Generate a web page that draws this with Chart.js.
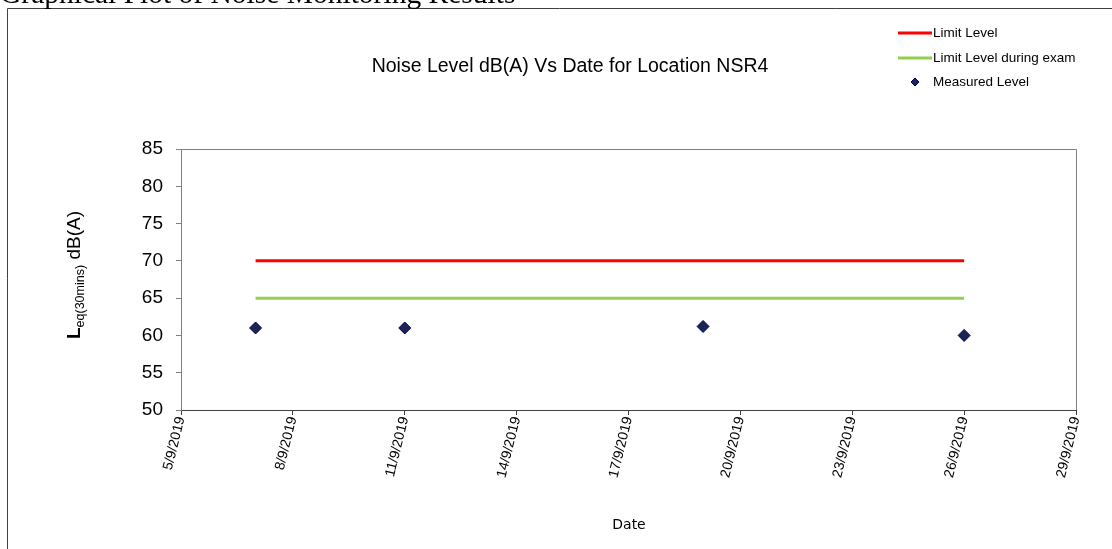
<!DOCTYPE html>
<html>
<head>
<meta charset="utf-8">
<style>
  html, body { margin: 0; padding: 0; background: #fff; }
  #wrap { width: 1112px; height: 549px; position: relative; }
</style>
<script src="https://cdn.jsdelivr.net/npm/chart.js@4/dist/chart.umd.min.js"></script>
</head>
<body>
<div id="wrap"><canvas id="c" width="1112" height="549"></canvas></div>
<script>
const pageTitle = 'Graphical Plot of Noise Monitoring Results';
const chartTitle = 'Noise Level dB(A) Vs Date for Location NSR4';
const xTitle = 'Date';
const dates = ['7/9/2019', '11/9/2019', '19/9/2019', '26/9/2019'];
const measuredLevel = [61.0, 61.0, 61.2, 60.0];
const limitLevel = [70, 70, 70, 70];
const examLimitLevel = [65, 65, 65, 65];
const xTickDays = [5, 8, 11, 14, 17, 20, 23, 26, 29];
const yTicks = [50, 55, 60, 65, 70, 75, 80, 85];
const seriesNames = ['Limit Level', 'Limit Level during exam', 'Measured Level'];

const dayOf = s => parseInt(s.split('/')[0], 10);
const toPts = vals => dates.map((d, i) => ({ x: dayOf(d), y: vals[i] }));

const framePlugin = {
  id: 'frame',
  beforeDraw(chart) {
    const ctx = chart.ctx;
    ctx.save();
    ctx.fillStyle = '#fff';
    ctx.fillRect(0, 0, chart.width, chart.height);
    // outer frame
    ctx.strokeStyle = '#404040';
    ctx.lineWidth = 1;
    ctx.beginPath();
    ctx.moveTo(7.5, chart.height);
    ctx.lineTo(7.5, 8.5);
    ctx.lineTo(chart.width, 8.5);
    ctx.stroke();
    // page title (cut off)
    ctx.fillStyle = '#000';
    ctx.font = '29.5px "Liberation Serif", "Times New Roman", serif';
    ctx.textBaseline = 'alphabetic';
    ctx.textAlign = 'left';
    ctx.fillText(pageTitle, 0, 3);
    // plot area box
    const a = chart.chartArea;
    ctx.strokeStyle = '#808080';
    ctx.beginPath();
    ctx.moveTo(Math.round(a.left) + 0.5, Math.round(a.top) + 0.5);
    ctx.lineTo(Math.round(a.right) + 0.5, Math.round(a.top) + 0.5);
    ctx.lineTo(Math.round(a.right) + 0.5, Math.round(a.bottom) + 0.5);
    ctx.stroke();
    ctx.restore();
  },
  afterDraw(chart) {
    const ctx = chart.ctx;
    ctx.save();
    ctx.fillStyle = '#000';
    // chart title
    ctx.font = '19.5px "Liberation Sans", Arial, sans-serif';
    ctx.textAlign = 'center';
    ctx.textBaseline = 'middle';
    ctx.fillText(chartTitle, 570, 67);
    // x title
    ctx.font = '14px "DejaVu Sans", Verdana, sans-serif';
    ctx.fillText(xTitle, 629, 525);
    // y title
    ctx.translate(80, 339);
    ctx.rotate(-Math.PI / 2);
    ctx.textAlign = 'left';
    ctx.textBaseline = 'alphabetic';
    ctx.font = 'bold 19px "Liberation Sans", Arial, sans-serif';
    ctx.fillText('L', 0, 0);
    let x = ctx.measureText('L').width;
    ctx.font = '12.5px "Liberation Sans", Arial, sans-serif';
    ctx.fillText('eq(30mins)', x, 4);
    x += ctx.measureText('eq(30mins)').width;
    ctx.font = '19px "Liberation Sans", Arial, sans-serif';
    ctx.fillText(' dB(A)', x, 0);
    ctx.restore();

    // legend
    ctx.save();
    const ds = chart.data.datasets;
    ctx.font = '13.5px "Liberation Sans", Arial, sans-serif';
    ctx.textAlign = 'left';
    ctx.textBaseline = 'middle';
    const rows = [33, 58, 82];
    ds.forEach((d, i) => {
      const y = rows[i];
      if (d.showLine) {
        ctx.strokeStyle = d.borderColor;
        ctx.lineWidth = 3;
        ctx.beginPath();
        ctx.moveTo(898, y);
        ctx.lineTo(932, y);
        ctx.stroke();
      } else {
        ctx.fillStyle = d.backgroundColor;
        ctx.strokeStyle = d.borderColor;
        ctx.lineWidth = 1;
        ctx.beginPath();
        ctx.moveTo(915, y - 4);
        ctx.lineTo(919, y);
        ctx.lineTo(915, y + 4);
        ctx.lineTo(911, y);
        ctx.closePath();
        ctx.fill();
        ctx.stroke();
      }
      ctx.fillStyle = '#000';
      ctx.fillText(d.label, 933, y);
    });
    ctx.restore();
  }
};

new Chart(document.getElementById('c'), {
  type: 'scatter',
  data: {
    datasets: [
      { label: seriesNames[0], data: toPts(limitLevel), showLine: true, borderColor: '#FF0000', backgroundColor: '#FF0000', borderWidth: 3, pointRadius: 0 },
      { label: seriesNames[1], data: toPts(examLimitLevel), showLine: true, borderColor: '#92D050', backgroundColor: '#92D050', borderWidth: 3, pointRadius: 0 },
      { label: seriesNames[2], data: toPts(measuredLevel), showLine: false, pointStyle: 'rectRot', pointRadius: 6, backgroundColor: '#1B2550', borderColor: '#000066', borderWidth: 1 }
    ]
  },
  options: {
    responsive: false,
    animation: false,
    events: [],
    layout: { padding: { top: 149, right: 36, left: 0, bottom: 0 } },
    plugins: { legend: { display: false }, title: { display: false }, tooltip: { enabled: false } },
    scales: {
      x: {
        type: 'linear',
        min: xTickDays[0],
        max: xTickDays[xTickDays.length - 1],
        afterBuildTicks(scale) { scale.ticks = xTickDays.map(v => ({ value: v })); },
        afterFit(scale) { scale.height = 139; },
        grid: { drawOnChartArea: false, drawTicks: true, tickLength: 5, color: '#404040' },
        border: { color: '#404040', width: 1 },
        ticks: {
          minRotation: 76, maxRotation: 76, padding: 0,
          color: '#000',
          font: { family: '"Liberation Sans", Arial, sans-serif', size: 14 },
          callback: v => v + '/9/2019'
        }
      },
      y: {
        min: yTicks[0],
        max: yTicks[yTicks.length - 1],
        afterBuildTicks(scale) { scale.ticks = yTicks.map(v => ({ value: v })); },
        afterFit(scale) { scale.width = 181; },
        grid: { drawOnChartArea: false, drawTicks: true, tickLength: 5, color: '#808080' },
        border: { color: '#808080', width: 1 },
        ticks: {
          padding: 13,
          color: '#000',
          font: { family: '"Liberation Sans", Arial, sans-serif', size: 19 }
        }
      }
    }
  },
  plugins: [framePlugin]
});
</script>
</body>
</html>
